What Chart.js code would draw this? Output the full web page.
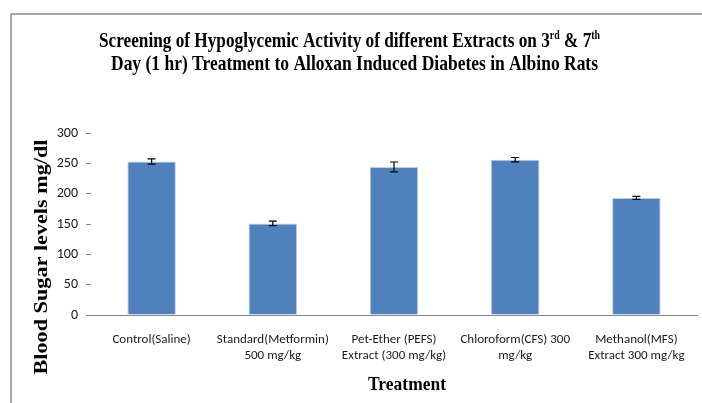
<!DOCTYPE html>
<html>
<head>
<meta charset="utf-8">
<script src="https://cdn.jsdelivr.net/npm/chart.js@4.4.1/dist/chart.umd.min.js"></script>
<style>
  html, body { margin: 0; padding: 0; background: #fff; }
  #wrap { position: relative; width: 702px; height: 403px; }
</style>
</head>
<body>
<div id="wrap"><canvas id="c" width="702" height="403"></canvas></div>
<script>
// ---- data ----
const categories = [
  "Control(Saline)",
  ["Standard(Metformin)", "500 mg/kg"],
  ["Pet-Ether (PEFS)", "Extract (300 mg/kg)"],
  ["Chloroform(CFS) 300", "mg/kg"],
  ["Methanol(MFS)", "Extract 300 mg/kg"]
];
const bloodSugar = [253, 151, 244, 256, 193];
const errorValues = [4.4, 3.8, 8.2, 3.6, 2.5];
const yTicks = [0, 50, 100, 150, 200, 250, 300];
const titleLine1 = "Screening of Hypoglycemic Activity of different Extracts on 3";
const titleSup1 = "rd";
const titleMid = " & 7";
const titleSup2 = "th";
const titleLine2 = "Day (1 hr) Treatment to Alloxan Induced Diabetes in Albino Rats";
const yTitle = "Blood Sugar levels mg/dl";
const xTitle = "Treatment";

const SERIF = '"Liberation Serif", "Times New Roman", serif';
const SANS = 'Carlito, Calibri, Lato, "Liberation Sans", sans-serif';

function fitText(ctx, text, font, targetW) {
  ctx.font = font;
  return targetW / ctx.measureText(text).width;
}

const decorPlugin = {
  id: 'decor',
  beforeDraw(chart) {
    const ctx = chart.ctx;
    ctx.save();
    ctx.strokeStyle = '#8c8c8c';
    ctx.lineWidth = 1.5;
    ctx.beginPath();
    ctx.moveTo(11, 403);
    ctx.lineTo(11, 14);
    ctx.lineTo(702, 14);
    ctx.stroke();
    ctx.restore();
  },
  afterDraw(chart) {
    const ctx = chart.ctx;
    ctx.save();
    ctx.fillStyle = '#000';
    ctx.textBaseline = 'alphabetic';
    const big = 'bold 21px ' + SERIF;
    const small = 'bold 12px ' + SERIF;
    ctx.font = big;
    const w1 = ctx.measureText(titleLine1).width;
    const w3 = ctx.measureText(titleMid).width;
    ctx.font = small;
    const w2 = ctx.measureText(titleSup1).width;
    const w4 = ctx.measureText(titleSup2).width;
    const total = w1 + w2 + w3 + w4;
    const sx1 = (600 - 99) / total;
    ctx.save();
    ctx.translate(99, 47);
    ctx.scale(sx1, 1);
    let x = 0;
    ctx.font = big; ctx.fillText(titleLine1, x, 0); x += w1;
    ctx.font = small; ctx.fillText(titleSup1, x, -8); x += w2;
    ctx.font = big; ctx.fillText(titleMid, x, 0); x += w3;
    ctx.font = small; ctx.fillText(titleSup2, x, -8);
    ctx.restore();
    const sx2 = fitText(ctx, titleLine2, big, 598 - 111);
    ctx.save();
    ctx.translate(111, 70);
    ctx.scale(sx2, 1);
    ctx.font = big;
    ctx.fillText(titleLine2, 0, 0);
    ctx.restore();
    const yf = 'bold 19px ' + SERIF;
    const sy = fitText(ctx, yTitle, yf, 235);
    ctx.save();
    ctx.translate(47, 257);
    ctx.rotate(-Math.PI / 2);
    ctx.scale(sy, 1);
    ctx.font = yf;
    ctx.textAlign = 'center';
    ctx.fillText(yTitle, 0, 0);
    ctx.restore();
    ctx.save();
    ctx.font = 'bold 19px ' + SERIF;
    const sxx = fitText(ctx, xTitle, ctx.font, 78);
    ctx.translate(407, 390);
    ctx.scale(sxx, 1);
    ctx.textAlign = 'center';
    ctx.fillText(xTitle, 0, 0);
    ctx.restore();
    ctx.restore();
  }
};

const errorBarPlugin = {
  id: 'errorBars',
  afterDatasetsDraw(chart) {
    const ctx = chart.ctx;
    const meta = chart.getDatasetMeta(0);
    const ys = chart.scales.y;
    ctx.save();
    ctx.strokeStyle = '#000';
    ctx.lineWidth = 1.2;
    meta.data.forEach((bar, i) => {
      const v = bloodSugar[i], e = errorValues[i];
      const yTop = ys.getPixelForValue(v + e);
      const yBot = ys.getPixelForValue(v - e);
      const xc = bar.x;
      ctx.beginPath();
      ctx.moveTo(xc, yTop); ctx.lineTo(xc, yBot);
      ctx.moveTo(xc - 4, yTop); ctx.lineTo(xc + 4, yTop);
      ctx.moveTo(xc - 4, yBot); ctx.lineTo(xc + 4, yBot);
      ctx.stroke();
    });
    ctx.restore();
  }
};

new Chart(document.getElementById('c'), {
  type: 'bar',
  data: {
    labels: categories,
    datasets: [{
      data: bloodSugar,
      backgroundColor: '#4F81BD',
      borderColor: '#B9CDE5',
      borderWidth: 1,
      barPercentage: 0.4,
      categoryPercentage: 1.0
    }]
  },
  options: {
    responsive: false,
    animation: false,
    devicePixelRatio: 1,
    layout: { padding: { top: 133, right: 5, left: 0, bottom: 0 } },
    plugins: {
      legend: { display: false },
      title: { display: false },
      tooltip: { enabled: false }
    },
    scales: {
      x: {
        grid: { display: false },
        border: { display: true, color: '#868686', width: 1 },
        ticks: {
          color: '#1a1a1a',
          font: { family: SANS, size: 13 },
          maxRotation: 0,
          autoSkip: false,
          padding: 9
        },
        afterFit(scale) { scale.height = 88; }
      },
      y: {
        min: 0,
        max: 300,
        afterBuildTicks(scale) { scale.ticks = yTicks.map(v => ({ value: v })); },
        grid: { drawOnChartArea: false, drawTicks: true, tickLength: 5, color: '#868686' },
        border: { display: false },
        ticks: {
          color: '#1a1a1a',
          font: { family: SANS, size: 14 },
          padding: 8
        },
        afterFit(scale) { scale.width = 91; }
      }
    }
  },
  plugins: [decorPlugin, errorBarPlugin]
});
</script>
</body>
</html>
